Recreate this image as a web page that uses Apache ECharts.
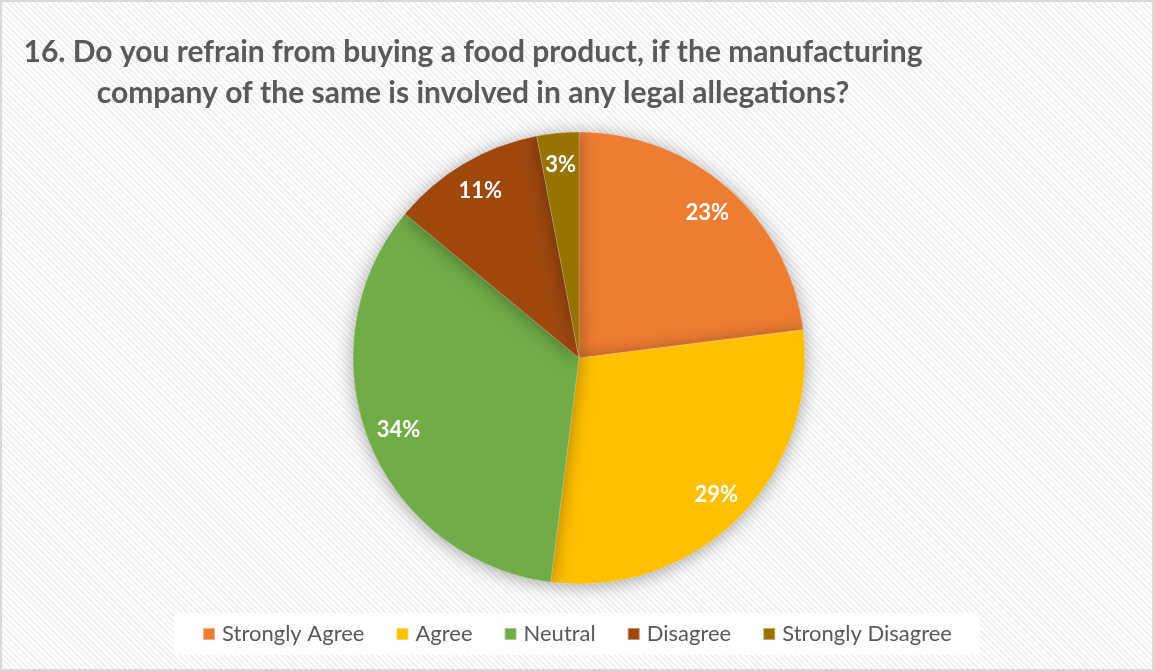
<!DOCTYPE html>
<html>
<head>
<meta charset="utf-8">
<script src="https://cdn.jsdelivr.net/npm/echarts@6/dist/echarts.min.js"></script>
<style>
  html, body { margin: 0; padding: 0; }
  #chart {
    width: 1154px; height: 671px; box-sizing: border-box;
    border: 2px solid #d9d9d9;
    background: repeating-linear-gradient(45deg, #ffffff 0px, #ffffff 2px, #f0f0f0 2px, #f0f0f0 4px);
  }
</style>
</head>
<body>
<div id="chart"></div>
<script>
// Survey answers and their share of respondents (percent)
const categories = ['Strongly Agree', 'Agree', 'Neutral', 'Disagree', 'Strongly Disagree'];
const shares = [23, 29, 34, 11, 3];
const colors = ['#ED7D31', '#FFC000', '#70AD47', '#9E480E', '#997300'];
const titleText = '16. Do you refrain from buying a food product, if the manufacturing\ncompany of the same is involved in any legal allegations?';

const FONT = 'Lato, "Open Sans", sans-serif';
const pieData = categories.map((name, i) => ({ name, value: shares[i], itemStyle: { color: colors[i] } }));

const chart = echarts.init(document.getElementById('chart'), null, { renderer: 'canvas' });
chart.setOption({
  backgroundColor: 'transparent',
  animation: false,
  title: {
    text: titleText,
    left: 466,
    top: 25,
    textAlign: 'center',
    textStyle: { fontFamily: FONT, fontWeight: 'bold', fontSize: 30, color: '#595959', lineHeight: 41 }
  },
  legend: {
    bottom: 14,
    left: 'center',
    itemWidth: 12,
    itemHeight: 12,
    itemGap: 31,
    icon: 'rect',
    padding: [10, 28],
    backgroundColor: 'rgba(255,255,255,0.85)',
    textStyle: { fontFamily: FONT, fontSize: 22, color: '#595959', padding: [0, 0, 0, 2] },
    data: categories
  },
  series: [
    {
      // filled slices with a soft drop shadow
      type: 'pie',
      center: [577, 356],
      radius: [0, 226],
      startAngle: 90,
      clockwise: true,
      silent: true,
      label: { show: false },
      labelLine: { show: false },
      itemStyle: { borderColor: 'rgba(255,255,255,0.4)', borderWidth: 0.5, shadowBlur: 18, shadowColor: 'rgba(0,0,0,0.35)', shadowOffsetY: 2 },
      data: pieData
    },
    {
      // transparent ring used only to place the percent labels near the rim
      type: 'pie',
      center: [577, 356],
      radius: [156, 226],
      startAngle: 90,
      clockwise: true,
      silent: true,
      itemStyle: { color: 'transparent', borderWidth: 0 },
      label: {
        show: true,
        position: 'inside',
        formatter: p => p.value + '%',
        fontFamily: FONT,
        fontWeight: 'bold',
        fontSize: 22,
        color: '#ffffff'
      },
      labelLine: { show: false },
      data: categories.map((name, i) => ({ name, value: shares[i] }))
    }
  ]
});
</script>
</body>
</html>
